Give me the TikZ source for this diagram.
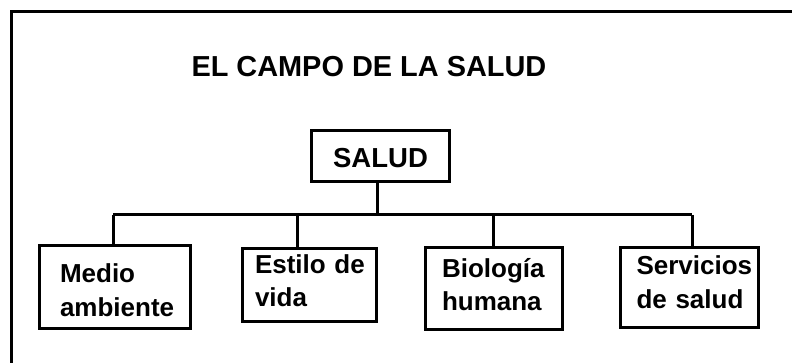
\documentclass[tikz,border=0pt]{standalone}
\usepackage{fontspec}
\setmainfont{Liberation Sans}
\begin{document}
\begin{tikzpicture}[x=1pt,y=-1pt,line width=3pt,
  box/.style={draw,rectangle,anchor=north west,outer sep=0pt,inner ysep=0pt,
    align=left,font=\bfseries\fontsize{26}{33}\selectfont},
  link/.style={draw,line width=3pt}]
\useasboundingbox (0,0) rectangle (792,363);
% outer frame (only left and top edges visible)
\coordinate (fbl) at (11,363);
\coordinate (ftl) at (11,12);
\coordinate (ftr) at (792,12);
\draw[line width=3pt] (fbl) -- (ftl) -- (ftr);
% title
\node[anchor=base west,inner sep=0pt,font=\bfseries\fontsize{28.9}{30}\selectfont] (title) at (190,76.7) {EL CAMPO DE LA SALUD};
% top box
\node[draw,anchor=north west,outer sep=0pt,inner sep=0pt,minimum width=138pt,
  text width=138pt,align=center,text height=37pt,text depth=14pt,
  font=\bfseries\fontsize{27.5}{30}\selectfont] (salud) at (311.5,130.5) {SALUD};
% bottom boxes
\node[box,inner xsep=20.5pt,text width=110pt,text height=37.5pt,text depth=45.5pt] (medio) at (39.5,245.5) {\mbox{Medio}\\\mbox{ambiente}};
\node[box,inner xsep=12.5pt,text width=109pt,text height=25pt,text depth=48pt] (estilo) at (242.5,248.5) {\mbox{Estilo de}\\\mbox{vida}};
\node[box,inner xsep=16.5pt,text width=104pt,text height=30pt,text depth=52pt] (bio) at (425.5,247.5) {\mbox{Biología}\\\mbox{humana}};
\node[box,inner xsep=16pt,text width=106pt,text height=27.5pt,text depth=52.5pt] (serv) at (620.5,247.5) {\mbox{Servicios}\\\mbox{de salud}};
% connectors
\coordinate (hub) at (377.7,215);
\coordinate (b1) at (113,215);
\coordinate (b2) at (297.7,215);
\coordinate (b3) at (493,215);
\coordinate (b4) at (692,215);
\draw[link] (salud.south -| hub) -- (hub);
\draw[link] (b1) -- (b4);
\draw[link] (b1) -- (b1 |- medio.north);
\draw[link] (b2) -- (b2 |- estilo.north);
\draw[link] (b3) -- (b3 |- bio.north);
\draw[link] (b4) -- (b4 |- serv.north);
\end{tikzpicture}
\end{document}
